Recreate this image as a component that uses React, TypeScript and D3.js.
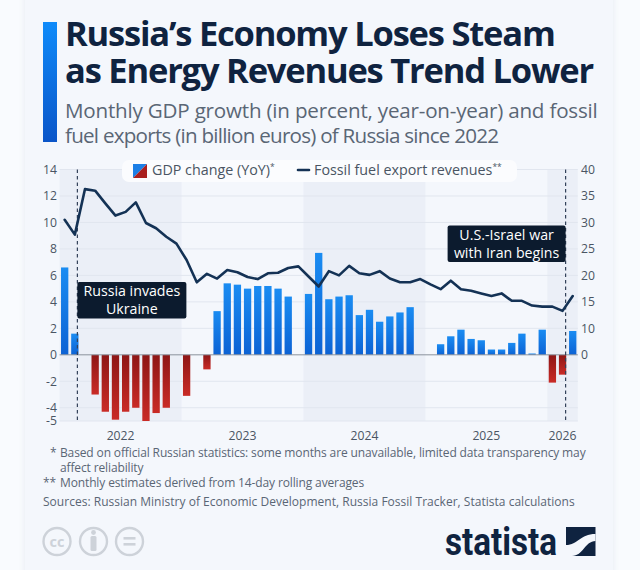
import React from 'react';
import * as d3 from 'd3';

const months = d3.range(51).map(String);
const gdpChange: (number | null)[] = [
  6.6, 1.6, null, -3.0, -4.3, -4.9, -4.3, -4.0, -5.0, -4.4, -4.0, null,
  -3.1, null, -1.1, 3.3, 5.4, 5.3, 5.0, 5.2, 5.2, 5.0, 4.4, null,
  4.6, 7.7, 4.2, 4.4, 4.5, 3.0, 3.4, 2.5, 2.9, 3.2, 3.6, null,
  null, 0.8, 1.4, 1.9, 1.2, 1.1, 0.4, 0.4, 0.9, 1.6, 0.1, 1.9,
  -2.1, -1.5, 1.8,
];
const fossilRevenue = [
  30.5, 27.7, 36.3, 36.0, 33.6, 31.3, 32.0, 33.8, 29.9, 28.9, 27.3, 26.0,
  22.9, 18.7, 20.3, 19.4, 21.0, 20.6, 19.7, 19.3, 20.4, 20.5, 21.4, 21.7,
  19.8, 17.9, 20.8, 20.0, 21.8, 20.4, 20.1, 20.8, 19.4, 18.7, 18.7, 19.3,
  18.3, 17.4, 19.0, 17.4, 17.1, 16.6, 16.1, 16.6, 15.2, 15.2, 14.3, 14.1,
  14.1, 13.3, 16.1,
];
const leftTicks = [14, 12, 10, 8, 6, 4, 2, 0, -2, -4, -5];
const rightTicks = [40, 35, 30, 25, 20, 15, 10, 0];
const years = [
  { label: '2022', first: 0, last: 11, shaded: true },
  { label: '2023', first: 12, last: 23, shaded: false },
  { label: '2024', first: 24, last: 35, shaded: true },
  { label: '2025', first: 36, last: 47, shaded: false },
  { label: '2026', first: 48, last: 50, shaded: true },
];

const SANS = '"Open Sans", sans-serif';
const x = d3.scaleBand<string>().domain(months).range([59.6, 577.8]).paddingInner(0.28).paddingOuter(0.14);
const yLeft = d3.scaleLinear().domain([-5, 14]).range([421, 169.5]);
// the right axis shares the left gridlines, so 0-10 takes one grid step and 10-40 takes six
const yRight = d3.scaleLinear().domain([0, 10, 40]).range([yLeft(0), yLeft(2), yLeft(14)]);
const step = x.step();
const mid = (i: number) => (x(String(i)) as number) + x.bandwidth() / 2;
const bandStart = (i: number) => mid(i) - step / 2;

const revenueLine = d3.line<number>()
  .x((_, i) => mid(i))
  .y((d) => yRight(d));

const markers = [
  { at: 1.25, lines: ['Russia invades', 'Ukraine'], side: 'right', top: 282 },
  { at: 49.3, lines: ['U.S.-Israel war', 'with Iran begins'], side: 'left', top: 225.5 },
];

export default function App() {
  return (
    <svg
      width={640}
      height={570}
      viewBox="0 0 640 570"
      style={{ position: 'fixed', left: 0, top: 0, fontFamily: SANS }}
    >
      <defs>
        <linearGradient id="blueBar" x1="0" y1="0" x2="0" y2="1">
          <stop offset="0" stopColor="#1a8cf2" />
          <stop offset="1" stopColor="#0c62d4" />
        </linearGradient>
        <linearGradient id="redBar" x1="0" y1="0" x2="0" y2="1">
          <stop offset="0" stopColor="#8e1616" />
          <stop offset="1" stopColor="#c92b26" />
        </linearGradient>
        <linearGradient id="accent" x1="0" y1="0" x2="0" y2="1">
          <stop offset="0" stopColor="#0f8bfa" />
          <stop offset="1" stopColor="#0a55c8" />
        </linearGradient>
        <filter id="cardShadow" x="-5%" y="-5%" width="110%" height="110%">
          <feGaussianBlur stdDeviation="3" />
        </filter>
      </defs>

      <rect width={640} height={570} fill="#f9fbfe" />
      <rect x={25} y={-10} width={588} height={590} fill="#d9dfe8" opacity={0.6} filter="url(#cardShadow)" />
      <rect x={25} y={-10} width={588} height={590} fill="#f4f7fc" />

      <rect x={43} y={22} width={14} height={120} fill="url(#accent)" />
      <g fill="#0f2340" fontWeight={700} fontSize={34.5} letterSpacing={-1.2}>
        <text x={65} y={46}>Russia’s Economy Loses Steam</text>
        <text x={65} y={83}>as Energy Revenues Trend Lower</text>
      </g>
      <g fill="#5a6675" fontSize={20.6}>
        <text x={65} y={118} letterSpacing={-0.2}>Monthly GDP growth (in percent, year-on-year) and fossil</text>
        <text x={65} y={143} letterSpacing={-0.75}>fuel exports (in billion euros) of Russia since 2022</text>
      </g>

      {years.filter((d) => d.shaded).map((d) => (
        <rect
          key={d.label}
          x={bandStart(d.first)}
          y={yLeft(14)}
          width={bandStart(d.last) + step - bandStart(d.first)}
          height={yLeft(-5) - yLeft(14)}
          fill="#ebeff7"
        />
      ))}

      {leftTicks.filter((t) => t !== 0).map((t) => (
        <line key={t} x1={59.6} x2={577.8} y1={yLeft(t)} y2={yLeft(t)} stroke="#e1e6ef" strokeWidth={1} />
      ))}

      {gdpChange.map((v, i) =>
        v === null ? null : (
          <rect
            key={months[i]}
            x={x(months[i])}
            y={v >= 0 ? yLeft(v) : yLeft(0)}
            width={x.bandwidth()}
            height={Math.abs(yLeft(v) - yLeft(0))}
            fill={v >= 0 ? 'url(#blueBar)' : 'url(#redBar)'}
          />
        ),
      )}
      <line x1={59.6} x2={577.8} y1={yLeft(0)} y2={yLeft(0)} stroke="#8b929c" strokeWidth={1} />

      {markers.map((m) => (
        <line
          key={m.lines[0]}
          x1={mid(0) + m.at * step}
          x2={mid(0) + m.at * step}
          y1={yLeft(14)}
          y2={yLeft(-5)}
          stroke="#33425a"
          strokeWidth={1.2}
          strokeDasharray="3.5 3"
        />
      ))}

      <path
        d={revenueLine(fossilRevenue) as string}
        fill="none"
        stroke="#143255"
        strokeWidth={2.6}
        strokeLinejoin="round"
        strokeLinecap="round"
      />

      {markers.map((m) => {
        const px = mid(0) + m.at * step;
        const w = m.side === 'right' ? 109 : 118;
        const bx = m.side === 'right' ? px : px - w;
        return (
          <g key={m.lines[0]}>
            <rect x={bx} y={m.top} width={w} height={36.5} rx={2} fill="#0c1b2e" />
            {m.lines.map((l, i) => (
              <text
                key={l}
                x={bx + w / 2}
                y={m.top + 14.3 + i * 18}
                textAnchor="middle"
                fill="#fff"
                fontSize={14.2}
              >
                {l}
              </text>
            ))}
          </g>
        );
      })}

      <rect x={122} y={160} width={395} height={22} rx={7} fill="#fbfcfe" />
      <path d="M133 178V164H147Z" fill="#1c7fe6" />
      <path d="M147 164V178H133Z" fill="#a91f1e" />
      <text x={152} y={175} fontSize={14.3} fill="#4a5563">
        GDP change (YoY)
        <tspan fontSize={8.5} dy={-5}>*</tspan>
      </text>
      <line x1={298} x2={309} y1={170} y2={170} stroke="#143255" strokeWidth={2.6} strokeLinecap="round" />
      <text x={314} y={175} fontSize={14.3} fill="#4a5563">
        Fossil fuel export revenues
        <tspan fontSize={8.5} dy={-5}>**</tspan>
      </text>

      <g fontSize={12.2} fill="#4a5563">
        {leftTicks.map((t) => (
          <text key={t} x={57} y={yLeft(t) + 4.4} textAnchor="end">{t}</text>
        ))}
        {rightTicks.map((t) => (
          <text key={t} x={581} y={yRight(t) + 4.4}>{t}</text>
        ))}
        {years.map((d) => (
          <text key={d.label} x={(mid(d.first) + mid(d.last)) / 2} y={440} textAnchor="middle">{d.label}</text>
        ))}
      </g>

      <g fontSize={12} fill="#5a6675" letterSpacing={-0.13}>
        <text x={50} y={457}>*</text>
        <text x={60} y={457}>Based on official Russian statistics: some months are unavailable, limited data transparency may</text>
        <text x={60} y={472}>affect reliability</text>
        <text x={43} y={487}>**</text>
        <text x={60} y={487}>Monthly estimates derived from 14-day rolling averages</text>
        <text x={43} y={506} letterSpacing={0.02}>Sources: Russian Ministry of Economic Development, Russia Fossil Tracker, Statista calculations</text>
      </g>

      <g fill="none" stroke="#cdd2d9" strokeWidth={2.4}>
        <circle cx={57} cy={541.5} r={13.5} />
        <circle cx={93.5} cy={541.5} r={13.5} />
        <circle cx={129.5} cy={541.5} r={13.5} />
      </g>
      <text x={57} y={546.5} textAnchor="middle" fontSize={14.5} fontWeight={700} fill="#cdd2d9">cc</text>
      <circle cx={93.5} cy={532.5} r={2.4} fill="#cdd2d9" />
      <rect x={90.5} y={536} width={6} height={15} rx={1.5} fill="#cdd2d9" />
      <rect x={123.5} y={537} width={12} height={2.6} fill="#cdd2d9" />
      <rect x={123.5} y={543} width={12} height={2.6} fill="#cdd2d9" />

      <text
        x={445}
        y={555}
        fontFamily='"Roboto", sans-serif'
        fontWeight={700}
        fontSize={38}
        fill="#0f2340"
        textLength={112}
        lengthAdjust="spacingAndGlyphs"
      >
        statista
      </text>
      <rect x={566} y={527} width={29.5} height={29} fill="#0f2340" />
      <path d="M566 545C578 545 580 534 595.5 534V541C585 541 583 556 572 556H566Z" fill="#f4f7fc" />
    </svg>
  );
}
